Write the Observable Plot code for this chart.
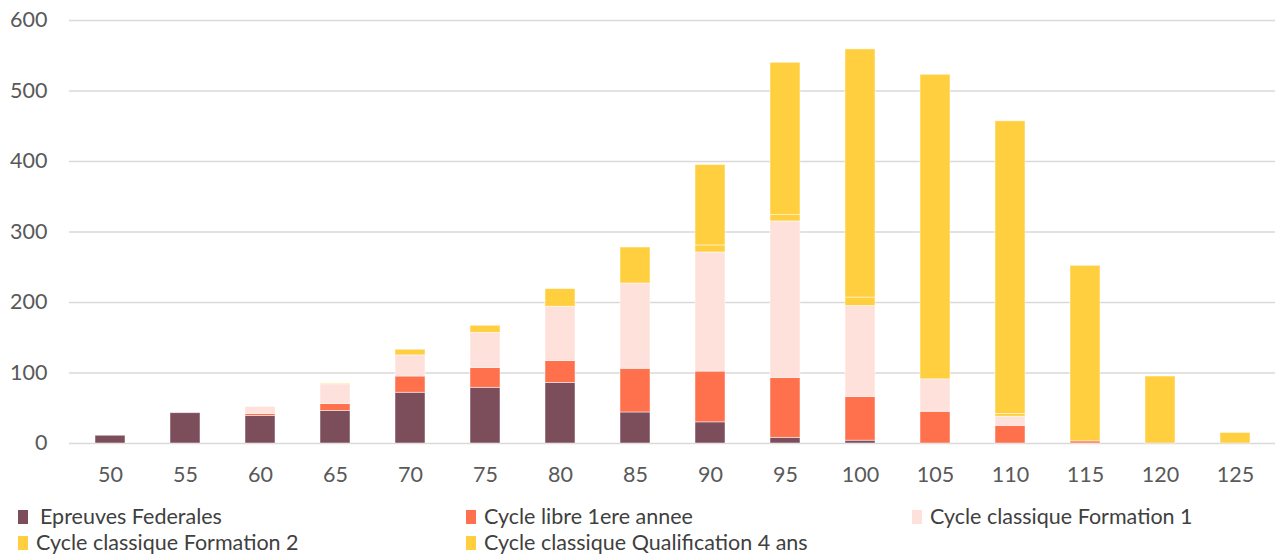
<!DOCTYPE html>
<html>
<head>
<meta charset="utf-8">
<script src="https://cdn.jsdelivr.net/npm/d3@7"></script>
<script src="https://cdn.jsdelivr.net/npm/@observablehq/plot@0.6"></script>
<style>
  body { margin: 0; background: #fff; font-family: Lato, "Open Sans", sans-serif; }
  #wrap { position: relative; width: 1279px; height: 556px; overflow: hidden; }
  .leg { position: absolute; font-size: 21.5px; color: #404040; white-space: pre; line-height: 22px; }
  .sw { position: absolute; width: 10px; height: 14px; }
</style>
</head>
<body>
<div id="wrap"><div id="chart"></div></div>
<script>
const categories = [50, 55, 60, 65, 70, 75, 80, 85, 90, 95, 100, 105, 110, 115, 120, 125];
const seriesNames = ["Epreuves Federales", "Cycle libre 1ere annee", "Cycle classique Formation 1", "Cycle classique Formation 2", "Cycle classique Qualification 4 ans"];
const epreuvesFederales   = [11, 43, 39, 46, 72, 79, 86, 44, 30, 8, 4, 0, 0, 0, 0, 0];
const cycleLibre1ere      = [0, 0, 3, 10, 23, 28, 31, 62, 72, 85, 62, 45, 25, 3, 0, 0];
const classiqueFormation1 = [0, 0, 10, 28, 30, 50, 77, 121, 169, 222, 129, 46, 13, 0, 0, 0];
const classiqueFormation2 = [0, 0, 0, 0, 0, 0, 0, 0, 10, 9, 12, 0, 4, 0, 0, 0];
const qualification4ans   = [0, 0, 0, 1, 8, 10, 25, 51, 114, 216, 352, 432, 415, 249, 95, 15];
const yTicks = [0, 100, 200, 300, 400, 500, 600];
const colors = ["#7C4D5B", "#FF704C", "#FFE1DC", "#FFCF40", "#FFCF40"];

const seriesValues = [epreuvesFederales, cycleLibre1ere, classiqueFormation1, classiqueFormation2, qualification4ans];
const data = [];
seriesNames.forEach((s, i) => categories.forEach((c, j) => data.push({cat: c, series: s, value: seriesValues[i][j]})));

const chart = Plot.plot({
  width: 1279,
  height: 500,
  marginTop: 20,
  marginBottom: 57,
  marginLeft: 69,
  marginRight: 4,
  style: {fontFamily: "Lato, 'Open Sans', sans-serif", fontSize: "21.5px", color: "#595959", background: "transparent"},
  x: {type: "band", domain: categories, paddingInner: 0.6, paddingOuter: 0.3, label: null},
  y: {domain: [0, 600], ticks: yTicks, label: null},
  color: {domain: seriesNames, range: colors},
  marks: [
    Plot.ruleY(yTicks, {stroke: "#D9D9D9", strokeWidth: 1.5}),
    Plot.barY(data, {x: "cat", y: "value", fill: "series", order: seriesNames, stroke: "white", strokeWidth: 0.8, strokeOpacity: 0.6}),
    Plot.axisX({tickSize: 0, tickPadding: 23, fontSize: 21.5}),
    Plot.axisY({ticks: yTicks, tickSize: 0, tickPadding: 22, fontSize: 21.5})
  ]
});
document.getElementById("chart").appendChild(chart);

const wrap = document.getElementById("wrap");
const legendPos = [
  {sx: 18, tx: 40, y: 505},
  {sx: 466, tx: 484, y: 505},
  {sx: 912, tx: 930, y: 505},
  {sx: 18, tx: 36, y: 531},
  {sx: 466, tx: 484, y: 531}
];
seriesNames.forEach((s, i) => {
  const p = legendPos[i];
  const sw = document.createElement("div");
  sw.className = "sw";
  sw.style.left = p.sx + "px";
  sw.style.top = (p.y + 5) + "px";
  sw.style.background = colors[i];
  wrap.appendChild(sw);
  const t = document.createElement("div");
  t.className = "leg";
  t.style.left = p.tx + "px";
  t.style.top = p.y + "px";
  t.textContent = s;
  wrap.appendChild(t);
});
</script>
</body>
</html>
